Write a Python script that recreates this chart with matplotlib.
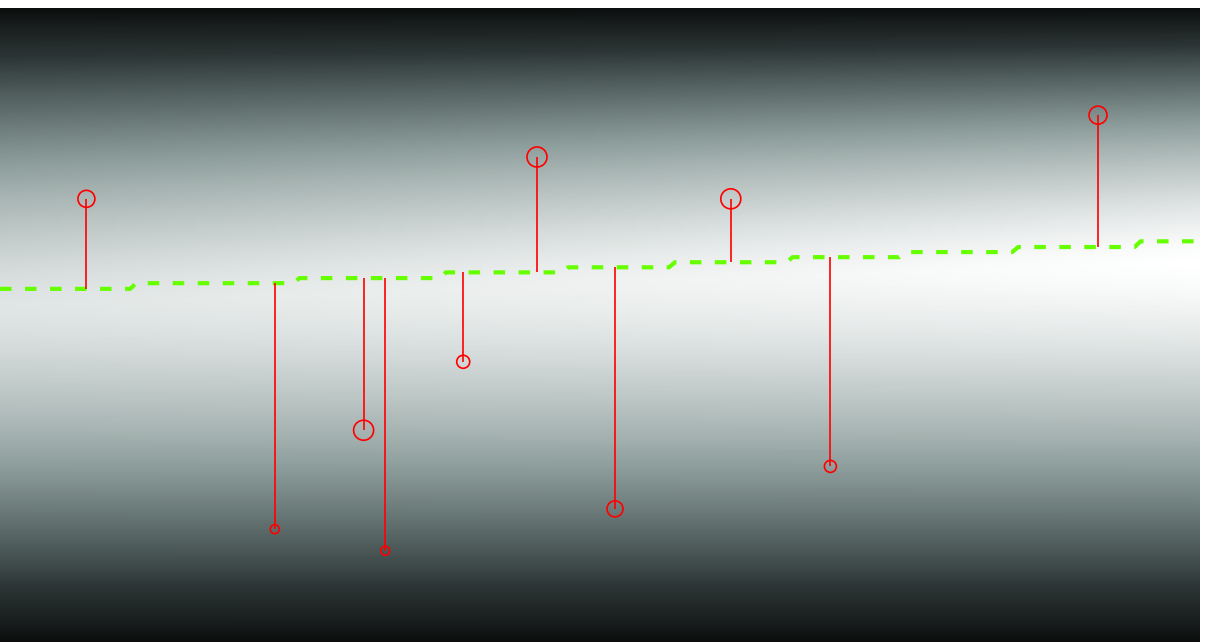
import numpy as np
import matplotlib
matplotlib.use("Agg")
import matplotlib.pyplot as plt
from matplotlib.colors import LinearSegmentedColormap

# trend line: step edges (x) and level of each step (y)
step_edges = [0, 11.1, 24.7, 36.9, 47.1, 56.0, 65.8, 75.2, 84.6, 94.8, 100]
step_levels = [55.7, 56.6, 57.4, 58.3, 59.1, 59.9, 60.7, 61.5, 62.3, 63.2]

# observations
obs_x = [7.2, 22.9, 30.3, 32.1, 38.6, 44.75, 51.25, 60.9, 69.2, 91.5]
obs_y = [69.9, 17.8, 33.4, 14.4, 44.2, 76.5, 21.0, 69.9, 27.7, 83.1]
obs_w = [8.5, 4.5, 10, 4.5, 6.5, 10, 8, 10, 6, 9]

fig = plt.figure(figsize=(12.08, 6.44), dpi=100)
ax = fig.add_axes([0, 2 / 644, 1200 / 1208, 634 / 644])
ax.set_xlim(0, 100)
ax.set_ylim(0, 100)
ax.axis('off')

# background gradient, dark at top and bottom, light band following the trend
cmap = LinearSegmentedColormap.from_list(
    'bg', ['#0d0f0f', '#2c3535', '#5d6c6b', '#91a19f', '#c6cfce', '#ffffff'])
gx = np.linspace(0, 100, 300)
gy = np.linspace(0, 100, 400)
X, Y = np.meshgrid(gx, gy)
centre = 53 + 7 * X / 100
half = np.where(Y > centre, 100 - centre, centre)
d = np.clip(np.abs(Y - centre) / half, 0, 1)
v = (1 - d ** 1.45) * (0.89 + 0.11 * X / 100)
ax.imshow(v, cmap=cmap, vmin=0, vmax=1, extent=(0, 100, 0, 100),
          origin='lower', aspect='auto', interpolation='bilinear', zorder=0)

# stepped trend line
tx, ty = [], []
for i, lv in enumerate(step_levels):
    a = step_edges[i] + (0.25 if i > 0 else 0)
    b = step_edges[i + 1] - (0.25 if i < len(step_levels) - 1 else 0)
    tx += [a, b]
    ty += [lv, lv]
plt.rcParams['lines.scale_dashes'] = False
ax.plot(tx, ty, color='#66ff00', lw=3.0, dashes=(8.3, 9.7), zorder=2)

# stems from trend to observation
idx = np.searchsorted(step_edges, obs_x) - 1
base = np.array(step_levels)[idx]
ax.vlines(obs_x, base, obs_y, color='#ff0000', lw=1.2, zorder=3)
ax.scatter(obs_x, obs_y, s=(np.array(obs_w) * 1.44) ** 2, facecolors='none',
           edgecolors='#ff0000', linewidths=1.2, zorder=4)

fig.savefig('out.png', dpi=100)
